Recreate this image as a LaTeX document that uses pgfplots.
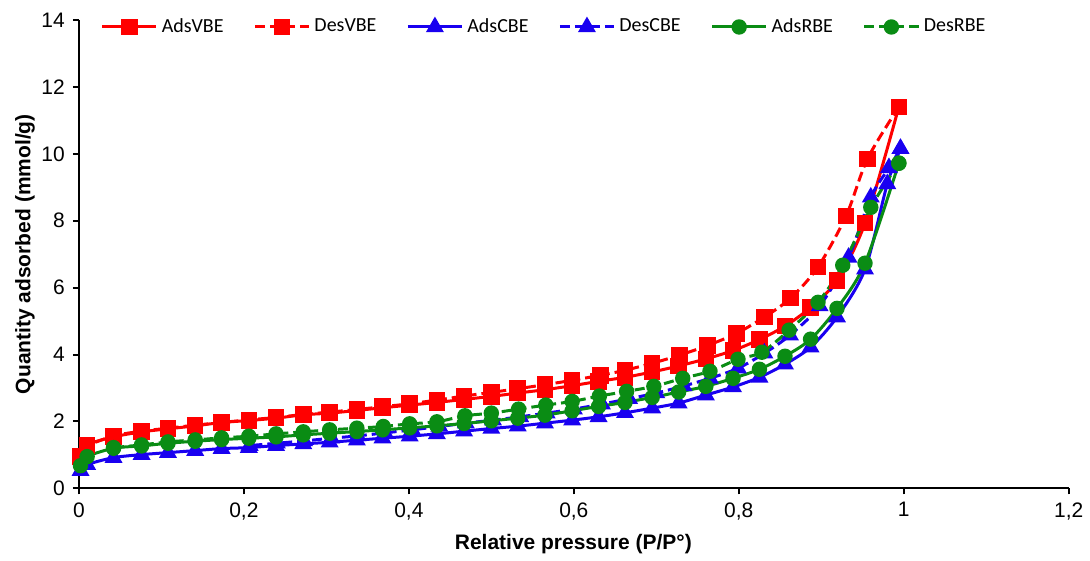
\documentclass[border=0pt]{standalone}
\usepackage{fontspec}
\setmainfont{Liberation Sans}
\newfontfamily\legfont{Carlito}
\usepackage{pgfplots}
\usepackage{pgfplotstable}
\pgfplotsset{compat=1.18}
\definecolor{cred}{RGB}{255,0,0}
\definecolor{cblue}{RGB}{25,0,240}
\definecolor{cgreen}{RGB}{10,140,20}

\pgfplotstableread{
x y
0.002 0.95
0.010 1.30
0.042 1.54
0.076 1.69
0.108 1.78
0.141 1.87
0.173 1.97
0.206 2.03
0.239 2.10
0.272 2.20
0.304 2.25
0.337 2.33
0.368 2.41
0.401 2.49
0.434 2.57
0.467 2.66
0.500 2.75
0.532 2.85
0.565 2.95
0.598 3.07
0.630 3.20
0.662 3.32
0.695 3.48
0.727 3.66
0.760 3.87
0.793 4.12
0.825 4.45
0.856 4.85
0.887 5.41
0.919 6.22
0.953 7.93
0.994 11.40
}\adsVBE

\pgfplotstableread{
x y
0.994 11.40
0.956 9.85
0.930 8.14
0.896 6.62
0.863 5.69
0.831 5.12
0.797 4.63
0.762 4.27
0.728 3.98
0.695 3.74
0.662 3.53
0.632 3.38
0.598 3.23
0.565 3.10
0.532 2.98
0.500 2.87
0.467 2.76
0.434 2.64
0.401 2.53
0.368 2.44
0.337 2.36
0.304 2.28
0.272 2.21
0.239 2.12
0.206 2.05
0.173 1.97
0.141 1.89
0.108 1.80
0.076 1.71
0.042 1.57
0.010 1.28
}\desVBE

\pgfplotstableread{
x y
0.002 0.53
0.010 0.71
0.042 0.92
0.076 1.01
0.108 1.07
0.141 1.13
0.173 1.19
0.206 1.22
0.239 1.28
0.272 1.33
0.304 1.38
0.337 1.44
0.368 1.50
0.401 1.56
0.434 1.63
0.467 1.71
0.500 1.79
0.532 1.86
0.565 1.95
0.598 2.04
0.630 2.14
0.662 2.26
0.695 2.40
0.727 2.55
0.760 2.79
0.793 3.03
0.825 3.32
0.856 3.71
0.887 4.22
0.919 5.12
0.953 6.55
0.980 9.10
0.996 10.15
}\adsCBE

\pgfplotstableread{
x y
0.996 10.15
0.982 9.58
0.960 8.70
0.933 6.90
0.898 5.45
0.862 4.58
0.831 4.04
0.799 3.59
0.765 3.29
0.733 3.06
0.700 2.85
0.667 2.68
0.634 2.52
0.600 2.37
0.567 2.25
0.535 2.14
0.502 2.04
0.469 1.95
0.437 1.85
0.404 1.75
0.371 1.66
0.338 1.57
0.306 1.50
0.273 1.42
0.240 1.35
0.207 1.28
}\desCBE

\pgfplotstableread{
x y
0.002 0.68
0.010 0.95
0.042 1.20
0.076 1.27
0.108 1.35
0.141 1.41
0.173 1.46
0.206 1.50
0.239 1.54
0.272 1.60
0.304 1.65
0.337 1.70
0.368 1.75
0.401 1.81
0.434 1.87
0.467 1.94
0.500 2.02
0.532 2.10
0.565 2.19
0.598 2.32
0.630 2.45
0.662 2.57
0.695 2.72
0.727 2.88
0.760 3.05
0.793 3.29
0.825 3.56
0.856 3.95
0.887 4.46
0.919 5.38
0.953 6.73
0.994 9.72
}\adsRBE

\pgfplotstableread{
x y
0.994 9.72
0.960 8.40
0.926 6.67
0.896 5.56
0.861 4.73
0.828 4.07
0.799 3.86
0.765 3.50
0.732 3.29
0.697 3.05
0.664 2.90
0.631 2.76
0.598 2.60
0.566 2.49
0.533 2.37
0.500 2.25
0.468 2.17
0.434 1.99
0.401 1.93
0.369 1.85
0.337 1.80
0.304 1.75
0.272 1.69
0.239 1.63
0.206 1.56
0.173 1.51
0.141 1.45
0.108 1.39
0.076 1.30
0.042 1.22
}\desRBE

\begin{document}
\begin{tikzpicture}
\begin{axis}[
  scale only axis,
  width=495.5pt, height=234.5pt,
  xmin=0, xmax=1.2, ymin=0, ymax=14,
  xtick={0,0.2,...,1.2}, ytick={0,2,...,14},
  axis x line*=bottom, axis y line*=left,
  axis line style={black, line width=1pt},
  tick align=outside, major tick length=3pt,
  tick style={black, line width=1pt},
  /pgf/number format/use comma,
  /pgf/number format/assume math mode=true,
  ticklabel style={font=\fontsize{10.5}{12}\selectfont},
  xlabel={Relative pressure (P/P°)},
  ylabel={Quantity adsorbed (mmol/g)},
  label style={font=\fontsize{10.5}{12}\selectfont\bfseries},
  xlabel style={at={(axis description cs:0.4995,-0.119)}, anchor=center},
  ylabel style={at={(axis description cs:-0.0545,0.5)}, anchor=center},
  clip=false,
  line width=1.5pt,
  legend columns=6,
  legend style={draw=none, fill=none, at={(axis description cs:0.471,0.985)}, anchor=center,
    font=\legfont\fontsize{10}{12}\selectfont,
    /tikz/every even column/.append style={column sep=13pt}},
  legend image code/.code={\draw[mark repeat=2,mark phase=2,#1] plot coordinates {(0pt,0pt) (13.5pt,0pt) (27pt,0pt)};},
  every axis plot/.append style={smooth, tension=0.5},
]
\addplot[cred, mark=square*, mark size=3.4pt, mark options={solid}] table {\adsVBE};
\addlegendentry{AdsVBE}
\addplot[cred, dash pattern=on 5pt off 2.5pt, mark=square*, mark size=3.4pt, mark options={solid}] table {\desVBE};
\addlegendentry{DesVBE}
\addplot[cblue, mark=triangle*, mark size=3.7pt, mark options={solid}] table {\adsCBE};
\addlegendentry{AdsCBE}
\addplot[cblue, dash pattern=on 5pt off 2.5pt, mark=triangle*, mark size=3.7pt, mark options={solid}] table {\desCBE};
\addlegendentry{DesCBE}
\addplot[cgreen, mark=*, mark size=3.1pt, mark options={solid}] table {\adsRBE};
\addlegendentry{AdsRBE}
\addplot[cgreen, dash pattern=on 5pt off 2.5pt, mark=*, mark size=3.1pt, mark options={solid}] table {\desRBE};
\addlegendentry{DesRBE}
\path[use as bounding box] (rel axis cs:-0.0797,-0.1493) rectangle (rel axis cs:1.0202,1.0426);
\end{axis}
\end{tikzpicture}
\end{document}
